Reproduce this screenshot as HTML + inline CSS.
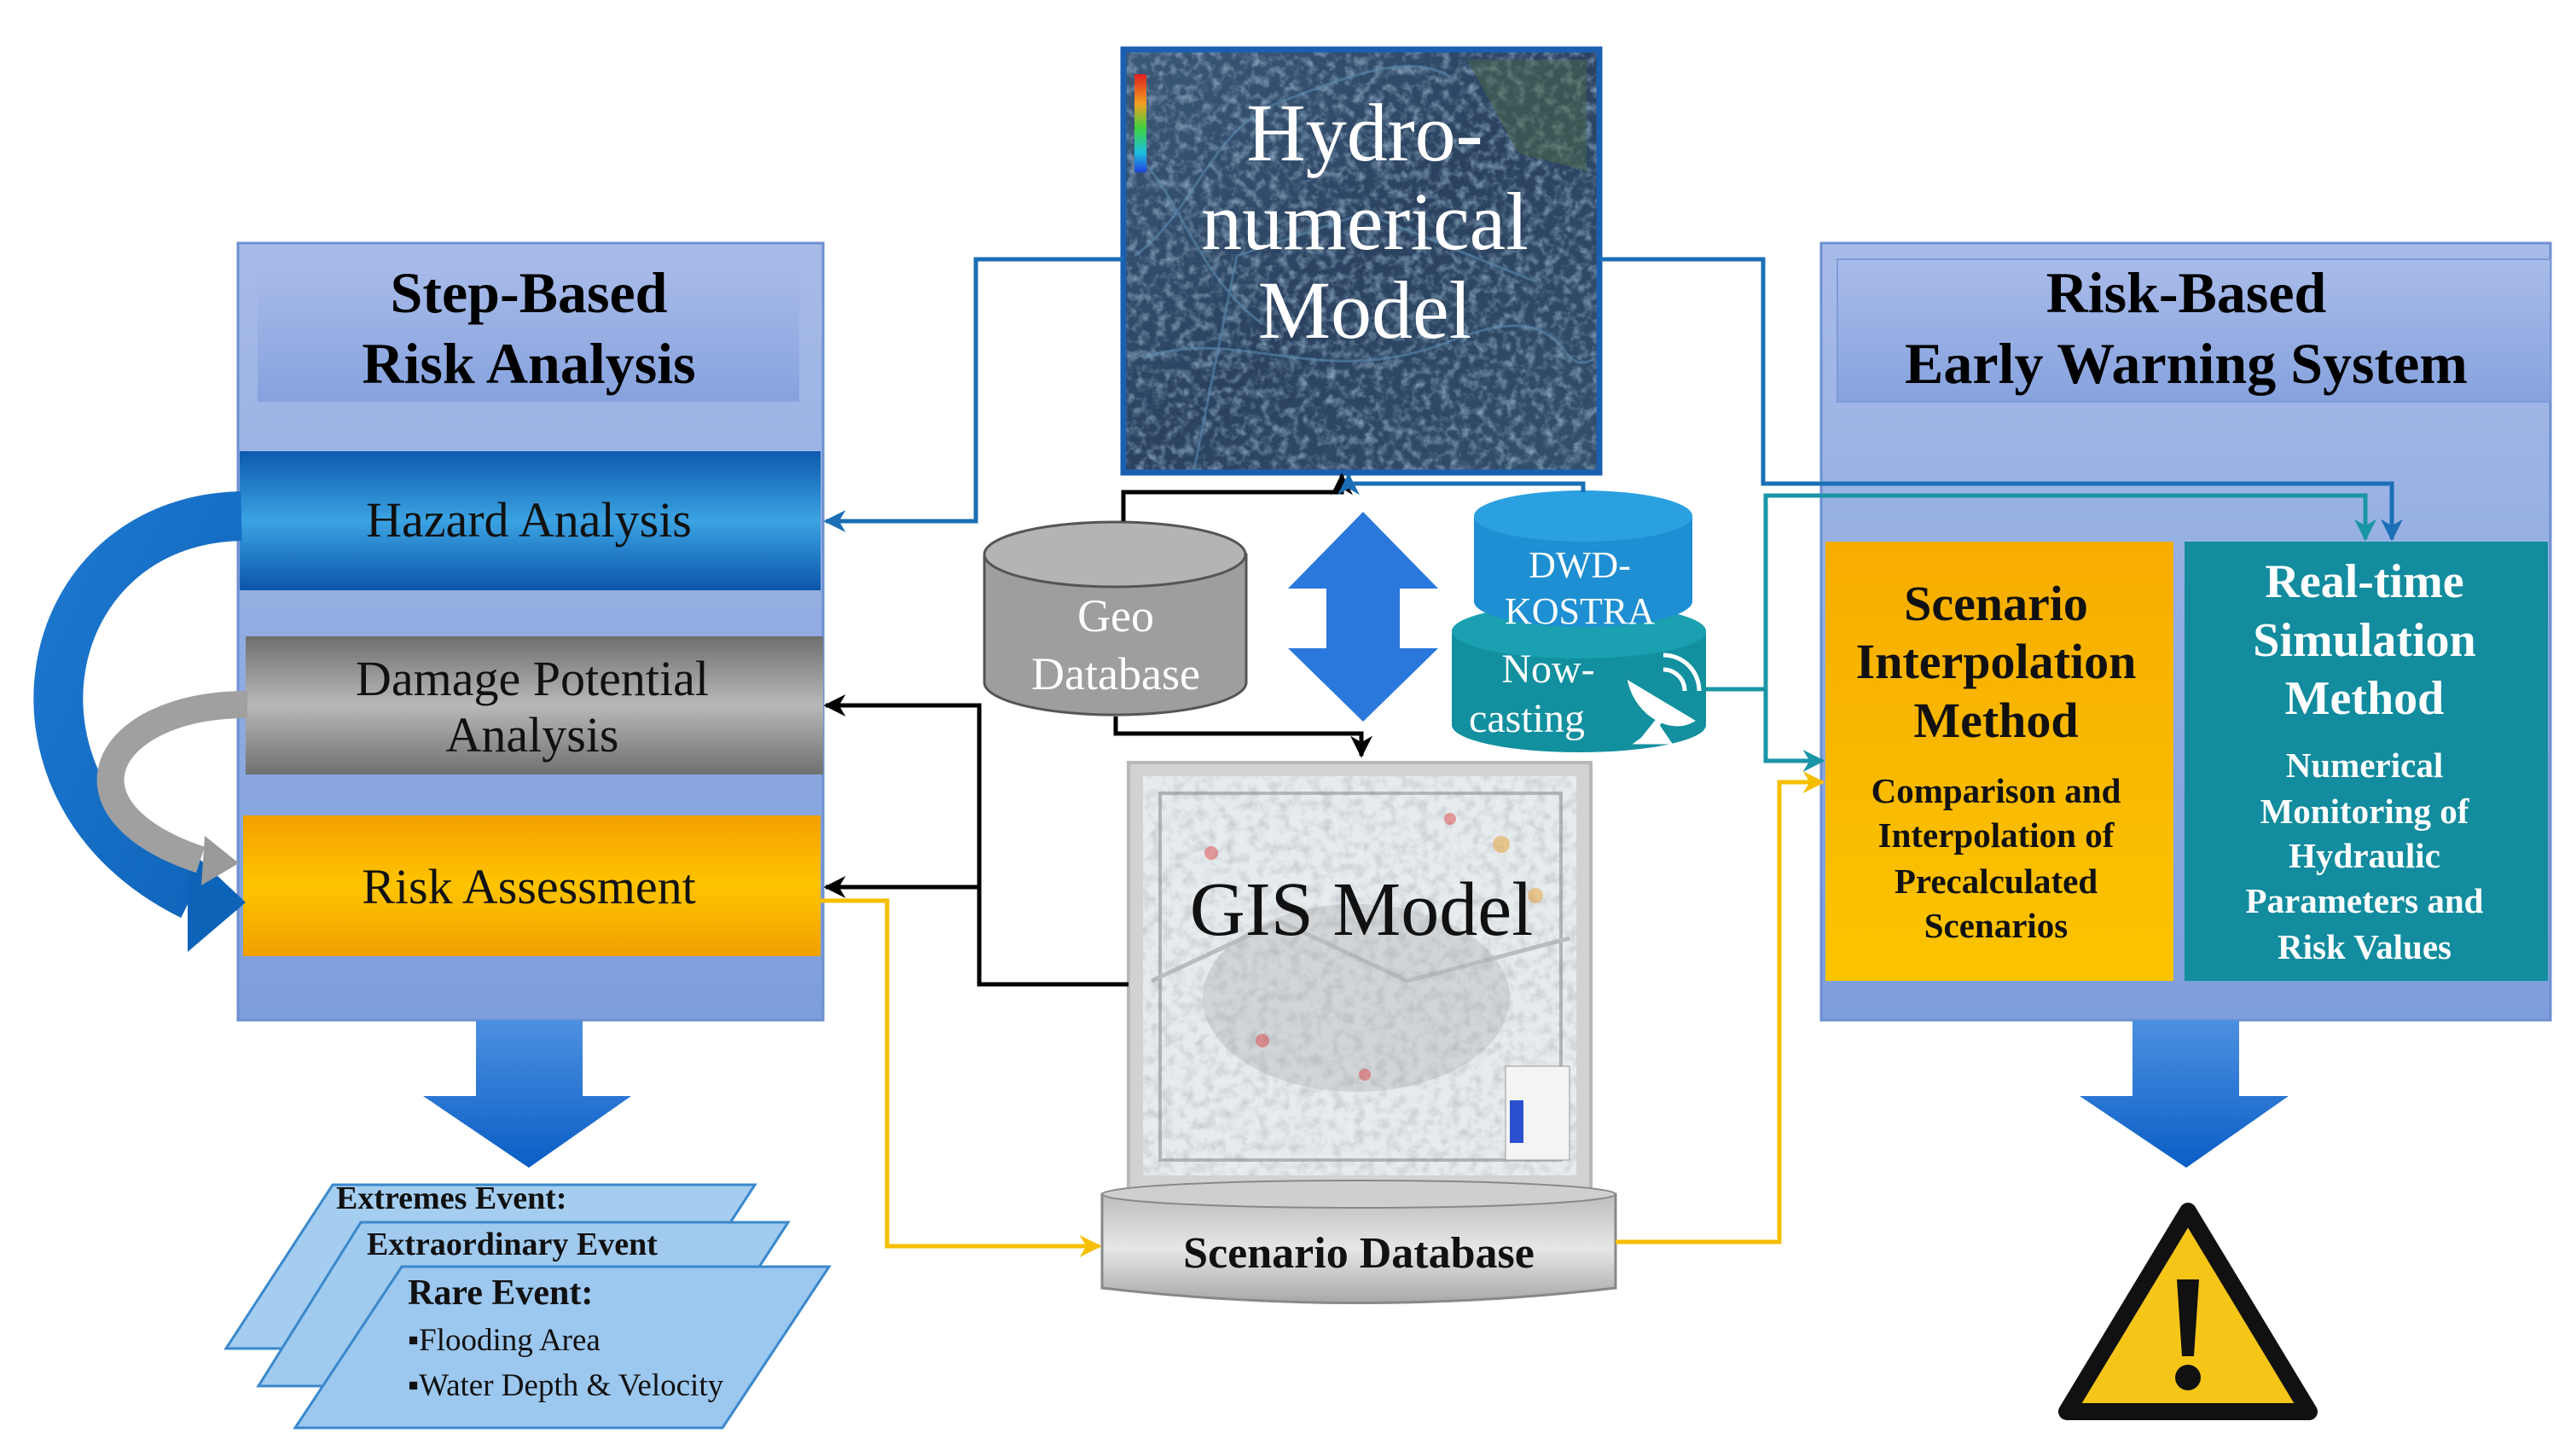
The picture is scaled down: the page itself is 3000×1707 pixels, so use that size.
<!DOCTYPE html>
<html><head><meta charset="utf-8"><style>
html,body{margin:0;padding:0;background:#fff;}
svg{display:block;}
text{font-family:"Liberation Serif",serif;}
</style></head><body>
<svg width="3000" height="1707" viewBox="0 0 3000 1707" xmlns="http://www.w3.org/2000/svg">
<defs>
<linearGradient id="pan" x1="0" y1="0" x2="0" y2="1"><stop offset="0" stop-color="#a7bbe8"/><stop offset="1" stop-color="#7d9edc"/></linearGradient>
<linearGradient id="tit" x1="0" y1="0" x2="0" y2="1"><stop offset="0" stop-color="#a9bce9"/><stop offset="1" stop-color="#86a2de"/></linearGradient>
<linearGradient id="haz" x1="0" y1="0" x2="0" y2="1"><stop offset="0" stop-color="#0d5aae"/><stop offset="0.5" stop-color="#3ba3e2"/><stop offset="1" stop-color="#0c55ab"/></linearGradient>
<linearGradient id="dam" x1="0" y1="0" x2="0" y2="1"><stop offset="0" stop-color="#6f6f6f"/><stop offset="0.5" stop-color="#b8b8b8"/><stop offset="1" stop-color="#707070"/></linearGradient>
<linearGradient id="rsk" x1="0" y1="0" x2="0" y2="1"><stop offset="0" stop-color="#f3a000"/><stop offset="0.5" stop-color="#ffc400"/><stop offset="1" stop-color="#f0a000"/></linearGradient>
<linearGradient id="darr" x1="0" y1="0" x2="0" y2="1"><stop offset="0" stop-color="#4d90e0"/><stop offset="1" stop-color="#0a5ec6"/></linearGradient>
<linearGradient id="yel" x1="0" y1="0" x2="0" y2="1"><stop offset="0" stop-color="#f7ad00"/><stop offset="1" stop-color="#fcc400"/></linearGradient>
<linearGradient id="hyd" x1="0" y1="0" x2="1" y2="1"><stop offset="0" stop-color="#3b5878"/><stop offset="0.5" stop-color="#2a4260"/><stop offset="1" stop-color="#34506a"/></linearGradient>
<linearGradient id="rb" x1="0" y1="0" x2="0" y2="1"><stop offset="0" stop-color="#e02020"/><stop offset="0.3" stop-color="#f0a020"/><stop offset="0.55" stop-color="#40d040"/><stop offset="0.8" stop-color="#20c0e0"/><stop offset="1" stop-color="#2040e0"/></linearGradient>
<linearGradient id="plat" x1="0" y1="0" x2="0" y2="1"><stop offset="0" stop-color="#bdbdbd"/><stop offset="0.5" stop-color="#e6e6e6"/><stop offset="1" stop-color="#a8a8a8"/></linearGradient>
<linearGradient id="bcurve" x1="0" y1="0" x2="1" y2="1"><stop offset="0" stop-color="#1e78d0"/><stop offset="1" stop-color="#0d63b8"/></linearGradient>
<filter id="tex1" x="0" y="0" width="100%" height="100%">
<feTurbulence type="fractalNoise" baseFrequency="0.09" numOctaves="3" seed="3" result="n"/>
<feColorMatrix in="n" type="matrix" values="0 0 0 0 0.35  0 0 0 0 0.5  0 0 0 0 0.65  0 0 0 1.6 -0.7" result="c"/>
<feComposite in="c" in2="SourceGraphic" operator="in"/>
</filter>
<filter id="tex2" x="0" y="0" width="100%" height="100%">
<feTurbulence type="fractalNoise" baseFrequency="0.08" numOctaves="3" seed="7" result="n"/>
<feColorMatrix in="n" type="matrix" values="0 0 0 0 0.55  0 0 0 0 0.58  0 0 0 0 0.62  0 0 0 1.8 -0.75" result="c"/>
<feComposite in="c" in2="SourceGraphic" operator="in"/>
</filter>
<marker id="mk" viewBox="0 0 10 10" markerWidth="26" markerHeight="26" refX="9" refY="5" orient="auto" markerUnits="userSpaceOnUse"><path d="M0,0 L10,5 L0,10 L3,5 z" fill="#000"/></marker>
<marker id="mbl" viewBox="0 0 10 10" markerWidth="26" markerHeight="26" refX="9" refY="5" orient="auto" markerUnits="userSpaceOnUse"><path d="M0,0 L10,5 L0,10 L3,5 z" fill="#1a6fb5"/></marker>
<marker id="mt" viewBox="0 0 10 10" markerWidth="26" markerHeight="26" refX="9" refY="5" orient="auto" markerUnits="userSpaceOnUse"><path d="M0,0 L10,5 L0,10 L3,5 z" fill="#1a95a6"/></marker>
<marker id="my" viewBox="0 0 10 10" markerWidth="26" markerHeight="26" refX="9" refY="5" orient="auto" markerUnits="userSpaceOnUse"><path d="M0,0 L10,5 L0,10 L3,5 z" fill="#f5bf00"/></marker>
</defs>

<!-- LEFT PANEL -->
<rect x="279" y="285" width="686" height="911" fill="url(#pan)" stroke="#6d8fd0" stroke-width="3"/>
<rect x="302" y="304" width="635" height="167" fill="url(#tit)"/>
<text x="620" y="366" font-size="68" font-weight="bold" text-anchor="middle">Step-Based</text>
<text x="620" y="449" font-size="68" font-weight="bold" text-anchor="middle">Risk Analysis</text>
<rect x="281" y="529" width="681" height="163" fill="url(#haz)"/>
<text x="620" y="629" font-size="58" text-anchor="middle" fill="#111">Hazard Analysis</text>
<rect x="288" y="746" width="677" height="162" fill="url(#dam)"/>
<text x="624" y="815" font-size="58" text-anchor="middle" fill="#111">Damage Potential</text>
<text x="624" y="881" font-size="58" text-anchor="middle" fill="#111">Analysis</text>
<rect x="285" y="956" width="677" height="165" fill="url(#rsk)"/>
<text x="620" y="1059" font-size="58" text-anchor="middle" fill="#111">Risk Assessment</text>

<!-- curved arrows -->
<path d="M283 605 C 40 610, -20 930, 225 1050" fill="none" stroke="url(#bcurve)" stroke-width="58"/>
<polygon points="220,994 288,1058 220,1116" fill="#0d63b8"/>
<path d="M290 826 C 120 826, 60 950, 235 1008" fill="none" stroke="#a0a0a0" stroke-width="32"/>
<polygon points="240,980 280,1012 236,1038" fill="#9a9a9a"/>

<!-- left down arrow -->
<polygon points="558,1196 683,1196 683,1285 740,1285 620,1369 496,1285 558,1285" fill="url(#darr)"/>

<!-- parallelograms -->
<polygon points="390,1389 885,1389 760,1581 265,1581" fill="#a4cdf0" stroke="#3a88cc" stroke-width="3"/>
<polygon points="423,1433 924,1433 799,1625 303,1625" fill="#a0caee" stroke="#3a88cc" stroke-width="3"/>
<polygon points="471,1485 972,1485 847,1674 346,1674" fill="#9cc7ee" stroke="#3a88cc" stroke-width="3"/>
<g font-weight="bold" fill="#111">
<text x="394" y="1417" font-size="38">Extremes Event:</text>
<text x="430" y="1471" font-size="38">Extraordinary Event</text>
<text x="478" y="1529" font-size="42">Rare Event:</text>
<text x="478" y="1583" font-size="37" font-weight="normal">▪Flooding Area</text>
<text x="478" y="1636" font-size="37" font-weight="normal">▪Water Depth &amp; Velocity</text>
</g>

<!-- HYDRO MODEL -->
<rect x="1317" y="58" width="558" height="496" fill="url(#hyd)"/>
<rect x="1317" y="58" width="558" height="496" fill="#000" filter="url(#tex1)"/>
<g stroke="#5a8ab0" stroke-width="3" fill="none" opacity="0.6">
<path d="M1330 300 C 1400 250, 1420 150, 1500 120 S 1650 60, 1700 90"/>
<path d="M1340 420 C 1450 380, 1550 460, 1700 400 S 1820 450, 1870 420"/>
<path d="M1400 550 L1450 300 L1600 250 L1800 330"/>
<path d="M1330 180 C 1380 220, 1400 320, 1480 380"/>
</g>
<path d="M1720 70 L1860 70 L1860 200 L1780 180 Z" fill="#4a6a48" opacity="0.5"/>
<rect x="1317" y="58" width="558" height="496" fill="none" stroke="#1a5fb0" stroke-width="7"/>
<rect x="1330" y="87" width="14" height="115" fill="url(#rb)"/>
<g fill="#fff" font-size="96" text-anchor="middle">
<text x="1600" y="188">Hydro-</text>
<text x="1600" y="292">numerical</text>
<text x="1600" y="396">Model</text>
</g>

<!-- GEO DATABASE -->
<path d="M1154 650 L1154 800 A153 38 0 0 0 1461 800 L1461 650 Z" fill="#9e9e9e" stroke="#555" stroke-width="3"/>
<ellipse cx="1307" cy="650" rx="153" ry="38" fill="#b4b4b4" stroke="#555" stroke-width="3"/>
<text x="1308" y="740" font-size="54" fill="#fff" text-anchor="middle">Geo</text>
<text x="1308" y="808" font-size="54" fill="#fff" text-anchor="middle">Database</text>

<!-- DOUBLE ARROW -->
<polygon points="1598,600 1686,690 1641,690 1641,760 1686,760 1598,846 1510,760 1555,760 1555,690 1510,690" fill="#2a78dc"/>

<!-- DWD -->
<path d="M1702 740 L1702 850 A149 32 0 0 0 2000 850 L2000 740 Z" fill="#12909f"/>
<ellipse cx="1851" cy="740" rx="149" ry="32" fill="#1aa0b0"/>
<path d="M1728 605 L1728 705 A128 30 0 0 0 1984 705 L1984 605 Z" fill="#1e8fd2"/>
<ellipse cx="1856" cy="605" rx="128" ry="30" fill="#2aa0e0"/>
<text x="1852" y="677" font-size="44" fill="#fff" text-anchor="middle">DWD-</text>
<text x="1852" y="731" font-size="44" fill="#fff" text-anchor="middle">KOSTRA</text>
<text x="1815" y="800" font-size="48" fill="#fff" text-anchor="middle">Now-</text>
<text x="1790" y="858" font-size="48" fill="#fff" text-anchor="middle">casting</text>
<g fill="#fff" stroke="#fff">
<path d="M1910 800 C 1920 840, 1960 860, 1985 845 Z" stroke-width="3"/>
<line x1="1945" y1="845" x2="1925" y2="870" stroke-width="8"/>
<polygon points="1915,872 1960,872 1945,850" />
<path d="M1950 785 A25 25 0 0 1 1975 810" fill="none" stroke-width="5"/>
<path d="M1950 768 A42 42 0 0 1 1992 810" fill="none" stroke-width="5"/>
</g>

<!-- GIS MODEL -->
<rect x="1323" y="894" width="542" height="500" fill="#d2d2d2" stroke="#b8b8b8" stroke-width="4"/>
<rect x="1340" y="910" width="508" height="468" fill="#e6ebee"/>
<rect x="1340" y="910" width="508" height="468" fill="#000" filter="url(#tex2)"/>
<g opacity="0.55">
<rect x="1360" y="930" width="470" height="430" fill="none" stroke="#888" stroke-width="4"/>
<path d="M1350 1150 L1500 1080 L1650 1150 L1840 1100" stroke="#999" stroke-width="5" fill="none"/>
<ellipse cx="1590" cy="1170" rx="180" ry="110" fill="#999" opacity="0.5"/>
</g>
<g fill="#d44" opacity="0.5"><circle cx="1420" cy="1000" r="8"/><circle cx="1700" cy="960" r="7"/><circle cx="1480" cy="1220" r="8"/><circle cx="1600" cy="1260" r="7"/></g>
<g fill="#e8a030" opacity="0.5"><circle cx="1760" cy="990" r="10"/><circle cx="1800" cy="1050" r="9"/></g>
<rect x="1765" y="1250" width="75" height="110" fill="#f4f4f4" stroke="#999"/>
<rect x="1770" y="1290" width="16" height="50" fill="#2a50d0"/>
<text x="1596" y="1096" font-size="90" text-anchor="middle" fill="#111">GIS Model</text>

<!-- SCENARIO DATABASE -->
<path d="M1292 1400 L1292 1510 Q1593 1545 1894 1510 L1894 1400 Z" fill="url(#plat)" stroke="#888" stroke-width="3"/>
<ellipse cx="1593" cy="1400" rx="301" ry="16" fill="#cfcfcf" stroke="#888" stroke-width="2"/>
<text x="1593" y="1486" font-size="52" font-weight="bold" text-anchor="middle" fill="#111">Scenario Database</text>

<!-- RIGHT PANEL -->
<rect x="2135" y="285" width="855" height="911" fill="url(#pan)" stroke="#6d8fd0" stroke-width="3"/>
<rect x="2154" y="304" width="836" height="167" fill="url(#tit)" stroke="#7d9ad8" stroke-width="2"/>
<text x="2563" y="366" font-size="68" font-weight="bold" text-anchor="middle">Risk-Based</text>
<text x="2563" y="449" font-size="68" font-weight="bold" text-anchor="middle">Early Warning System</text>
<rect x="2140" y="635" width="408" height="515" fill="url(#yel)"/>
<rect x="2561" y="635" width="426" height="515" fill="#128c9e"/>
<g font-weight="bold" text-anchor="middle" fill="#111">
<text x="2340" y="727" font-size="58">Scenario</text>
<text x="2340" y="795" font-size="58">Interpolation</text>
<text x="2340" y="864" font-size="58">Method</text>
<text x="2340" y="941" font-size="41">Comparison and</text>
<text x="2340" y="993" font-size="41">Interpolation of</text>
<text x="2340" y="1047" font-size="41">Precalculated</text>
<text x="2340" y="1099" font-size="41">Scenarios</text>
</g>
<g font-weight="bold" text-anchor="middle" fill="#fff">
<text x="2772" y="700" font-size="56">Real-time</text>
<text x="2772" y="769" font-size="56">Simulation</text>
<text x="2772" y="837" font-size="56">Method</text>
<text x="2772" y="911" font-size="41">Numerical</text>
<text x="2772" y="965" font-size="41">Monitoring of</text>
<text x="2772" y="1017" font-size="41">Hydraulic</text>
<text x="2772" y="1070" font-size="41">Parameters and</text>
<text x="2772" y="1124" font-size="41">Risk Values</text>
</g>
<polygon points="2500,1196 2625,1196 2625,1285 2683,1285 2563,1369 2438,1285 2500,1285" fill="url(#darr)"/>

<!-- warning -->
<path d="M2565 1420 L2423 1655 L2707 1655 Z" fill="#f5c518" stroke="#111" stroke-width="20" stroke-linejoin="round"/>
<path d="M2552 1500 L2578 1500 L2572 1590 L2558 1590 Z" fill="#111"/>
<circle cx="2565" cy="1615" r="15" fill="#111"/>

<!-- CONNECTORS -->
<g fill="none" stroke-width="5">
<polyline points="1317,304 1144,304 1144,611 968,611" stroke="#1a6fb5" marker-end="url(#mbl)"/>
<polyline points="1875,304 2067,304 2067,567 2804,567 2804,632" stroke="#1a6fb5" marker-end="url(#mbl)"/>
<polyline points="2000,808 2070,808 2070,581 2773,581 2773,632" stroke="#1a95a6" marker-end="url(#mt)"/>
<polyline points="2070,808 2070,892 2137,892" stroke="#1a95a6" marker-end="url(#mt)"/>
<polyline points="1894,1456 2086,1456 2086,917 2137,917" stroke="#f5bf00" marker-end="url(#my)"/>
<polyline points="962,1056 1040,1056 1040,1461 1289,1461" stroke="#f5bf00" marker-end="url(#my)"/>
<polyline points="1323,1154 1148,1154 1148,827 968,827" stroke="#000" marker-end="url(#mk)"/>
<polyline points="1148,1040 968,1040" stroke="#000" marker-end="url(#mk)"/>
<polyline points="1317,611 1317,577 1573,577 1573,557" stroke="#000" marker-end="url(#mk)"/>
<polyline points="1856,577 1856,567 1581,567 1581,557" stroke="#1a6fb5" marker-end="url(#mbl)"/>
<polyline points="1308,840 1308,860 1596,860 1596,886" stroke="#000" marker-end="url(#mk)"/>
</g>
</svg>
</body></html>
